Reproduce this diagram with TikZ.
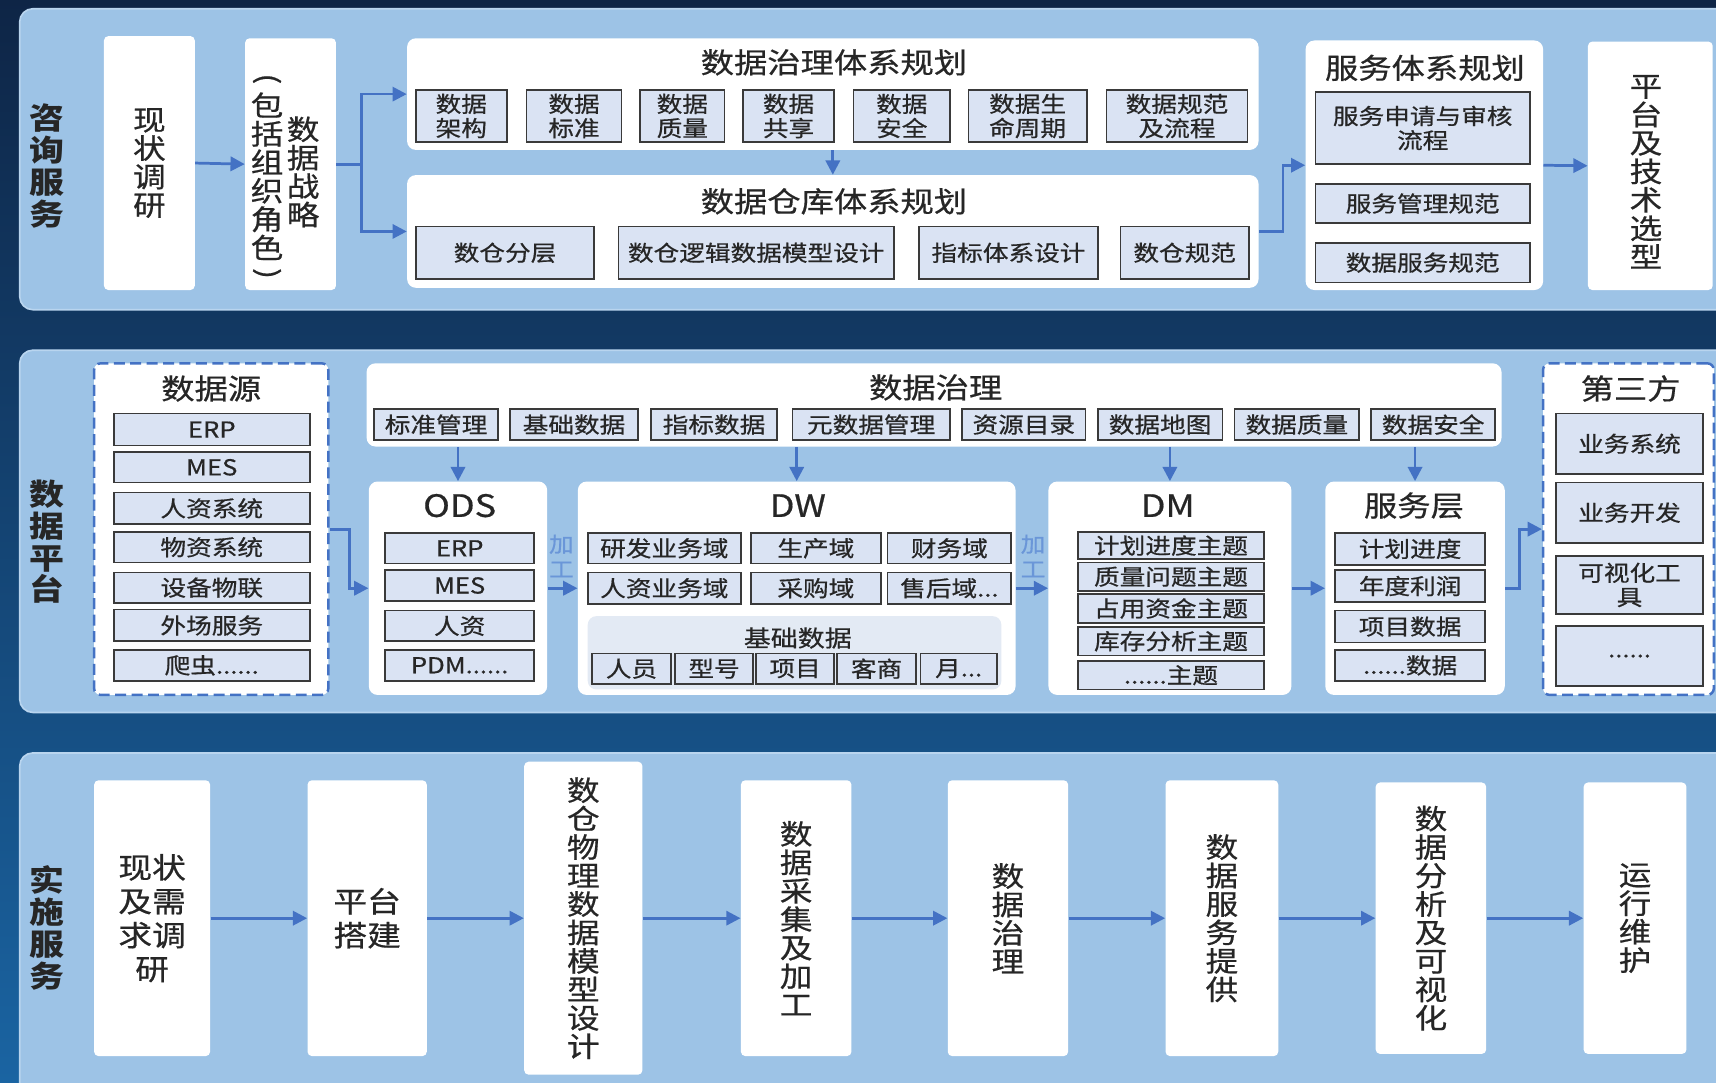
\documentclass[tikz,border=0pt]{standalone}
\usepackage{fontspec}
\setmainfont{Noto Sans CJK SC}[FakeStretch=1.17,UprightFeatures={FakeBold=0.6}]
\usepackage{tikz}
\usetikzlibrary{arrows.meta,calc,positioning}

\definecolor{bgnavy}{HTML}{0E2546}
\definecolor{bgblue}{HTML}{1A64A2}
\definecolor{panelblue}{HTML}{9DC3E6}
\definecolor{panelline}{HTML}{B9D5EF}
\definecolor{cellfill}{HTML}{DAE3F3}
\definecolor{cellline}{HTML}{3A3A3A}
\definecolor{basefill}{HTML}{E3EAF4}
\definecolor{arrowblue}{HTML}{4472C4}
\definecolor{jgblue}{HTML}{6A96D8}

\newcommand\lblfont{\fontsize{15.5pt}{16.6pt}\selectfont\bfseries}
\newcommand\titlefont{\fontsize{14.8pt}{17pt}\selectfont}
\newcommand\itemfont{\fontsize{11.4pt}{12.6pt}\selectfont}
\newcommand\vertfont{\fontsize{14.5pt}{14.8pt}\selectfont}
\newcommand\stepfont{\fontsize{15pt}{17.6pt}\selectfont}
\newcommand\engfont{\fontsize{16pt}{18pt}\selectfont}
\newcommand\jcfont{\fontsize{12pt}{14pt}\selectfont}
\newcommand\jgfont{\fontsize{11pt}{13pt}\selectfont}

% box from corner (x1,y1) to corner (x2,y2), pixel units
\newcommand\mkbox[7][]{\node[#1,minimum width={(#5-#3)*0.2mm},minimum height={(#6-#4)*0.2mm}] (#2) at ({(#3+#5)/2},{(#4+#6)/2}) {#7};}

\begin{document}
\begin{tikzpicture}[x=0.2mm,y=-0.2mm,
  every node/.append style={text=black!85},
  panel/.style={fill=panelblue,draw=panelline,line width=0.3mm,rounded corners=2.4mm},
  wbox/.style={fill=white,rounded corners=0.8mm,inner sep=0pt},
  card/.style={fill=white,rounded corners=1.6mm,inner sep=0pt},
  dbox/.style={fill=white,draw=arrowblue,line width=0.45mm,dash pattern=on 2mm off 1mm,rounded corners=1.2mm,inner sep=0pt},
  cell/.style={fill=cellfill,draw=cellline,line width=0.3mm,inner sep=0pt,font=\itemfont,align=center},
  ttl/.style={font=\titlefont,inner sep=0pt},
  vtxt/.style={font=\vertfont,align=center},
  lbl/.style={font=\lblfont,align=center,inner sep=0pt},
  jg/.style={font=\jgfont,align=center,text=jgblue,inner sep=0pt},
  ln/.style={draw=arrowblue,line width=0.5mm},
  arr/.style={draw=arrowblue,line width=0.5mm,-{Triangle[length=2.6mm,width=2.6mm]}}]
\useasboundingbox (0,0) rectangle (1568,989);
\clip (0,0) rectangle (1568,989);
\shade[top color=bgnavy,bottom color=bgblue] (0,0) rectangle (1568,989);

\draw[panel] (18,8) rectangle (1600,283);
\draw[panel] (18,320) rectangle (1600,651);
\draw[panel] (18,688) rectangle (1600,1020);
\node[lbl] (zxfw) at (43,152) {咨\\询\\服\\务};
\node[lbl] (sjpt) at (43,495) {数\\据\\平\\台};
\node[lbl] (ssfw) at (43,848) {实\\施\\服\\务};

% 咨询服务
\mkbox[wbox,vtxt]{xzdy}{95}{33}{178}{265}{现\\状\\调\\研}
\mkbox[wbox]{sjzl}{224}{35}{307}{265}{}
\node[vtxt,inner sep=0pt] (sjzla) at (277,157) {数\\据\\战\\略};
\node[vtxt,inner sep=0pt] (sjzlb) at (244,161) {包\\括\\组\\织\\角\\色};
\node[font=\vertfont,inner sep=0pt,rotate=-90] (kl) at (244,72) {(};
\node[font=\vertfont,inner sep=0pt,rotate=-90] (kr) at (244,250) {)};

\mkbox[card]{zltx}{372}{35}{1150}{137}{}
\node[ttl] (zltxt) at (762,57) {数据治理体系规划};
\mkbox[cell]{zl1}{380}{82}{463}{130}{数据\\架构}
\mkbox[cell]{zl2}{481}{82}{568}{130}{数据\\标准}
\mkbox[cell]{zl3}{585}{82}{662}{130}{数据\\质量}
\mkbox[cell]{zl4}{679}{82}{762}{130}{数据\\共享}
\mkbox[cell]{zl5}{780}{82}{868}{130}{数据\\安全}
\mkbox[cell]{zl6}{885}{82}{993}{130}{数据生\\命周期}
\mkbox[cell]{zl7}{1011}{82}{1140}{130}{数据规范\\及流程}

\mkbox[card]{cktx}{372}{160}{1150}{263}{}
\node[ttl] (cktxt) at (762,184) {数据仓库体系规划};
\mkbox[cell]{ck1}{380}{207}{543}{255}{数仓分层}
\mkbox[cell]{ck2}{565}{207}{817}{255}{数仓逻辑数据模型设计}
\mkbox[cell]{ck3}{840}{207}{1003}{255}{指标体系设计}
\mkbox[cell]{ck4}{1024}{207}{1141}{255}{数仓规范}

\mkbox[card]{fwtx}{1193}{37}{1410}{265}{}
\node[ttl] (fwtxt) at (1302,62) {服务体系规划};
\mkbox[cell]{fw1}{1202}{84}{1398}{150}{服务申请与审核\\流程}
\mkbox[cell]{fw2}{1202}{168}{1398}{204}{服务管理规范}
\mkbox[cell]{fw3}{1202}{222}{1398}{258}{数据服务规范}
\mkbox[wbox]{ptxx}{1451}{38}{1565}{265}{}
\node[vtxt,inner sep=0pt] (ptxxt) at (1504,157) {平\\台\\及\\技\\术\\选\\型};

\draw[arr] (xzdy.east) -- (sjzl.west);
\draw[ln] (sjzl.east) -- ++(23,0) coordinate (fc);
\draw[arr] (fc) |- (zltx.west);
\draw[arr] (fc) |- (cktx.west);
\draw[arr] (zltx.south) -- (cktx.north);
\draw[arr] (cktx.east) -- ++(22,0) |- (fwtx.west);
\draw[arr] (fwtx.east) -- (ptxx.west);

% 数据平台
\mkbox[dbox]{sjy}{86}{332}{300}{635}{}
\node[ttl] (sjyt) at (193,355) {数据源};
\mkbox[cell]{sy1}{104}{378}{283}{407}{ERP}
\mkbox[cell]{sy2}{104}{413}{283}{441}{MES}
\mkbox[cell]{sy3}{104}{450}{283}{479}{人资系统}
\mkbox[cell]{sy4}{104}{486}{283}{514}{物资系统}
\mkbox[cell]{sy5}{104}{523}{283}{551}{设备物联}
\mkbox[cell]{sy6}{104}{557}{283}{586}{外场服务}
\mkbox[cell]{sy7}{104}{594}{283}{622}{爬虫......}

\mkbox[card]{sjzlp}{335}{332}{1372}{408}{}
\node[ttl] (sjzlt) at (855,354) {数据治理};
\mkbox[cell]{gl1}{342}{374}{455}{402}{标准管理}
\mkbox[cell]{gl2}{466}{374}{583}{402}{基础数据}
\mkbox[cell]{gl3}{595}{374}{710}{402}{指标数据}
\mkbox[cell]{gl4}{724}{374}{868}{402}{元数据管理}
\mkbox[cell]{gl5}{879}{374}{992}{402}{资源目录}
\mkbox[cell]{gl6}{1003}{374}{1117}{402}{数据地图}
\mkbox[cell]{gl7}{1128}{374}{1242}{402}{数据质量}
\mkbox[cell]{gl8}{1253}{374}{1366}{402}{数据安全}

\mkbox[card]{ods}{337}{440}{500}{635}{}
\node[font=\engfont,inner sep=0pt] (odst) at (420,462) {ODS};
\mkbox[cell]{od1}{352}{487}{488}{515}{ERP}
\mkbox[cell]{od2}{352}{521}{488}{549}{MES}
\mkbox[cell]{od3}{352}{558}{488}{586}{人资}
\mkbox[cell]{od4}{352}{594}{488}{622}{PDM......}

\mkbox[card]{dw}{528}{440}{928}{635}{}
\node[font=\engfont,inner sep=0pt] (dwt) at (729,462) {DW};
\mkbox[cell]{dw1}{537}{487}{677}{515}{研发业务域}
\mkbox[cell]{dw2}{686}{487}{805}{515}{生产域}
\mkbox[cell]{dw3}{811}{487}{924}{515}{财务域}
\mkbox[cell]{dw4}{537}{523}{677}{552}{人资业务域}
\mkbox[cell]{dw5}{686}{523}{805}{552}{采购域}
\mkbox[cell]{dw6}{811}{523}{924}{552}{售后域...}
\mkbox[card,fill=basefill]{jcsj}{537}{563}{915}{630}{}
\node[font=\jcfont,inner sep=0pt] (jcsjt) at (729,583) {基础数据};
\mkbox[cell]{jc1}{541}{597}{613}{625}{人员}
\mkbox[cell]{jc2}{617}{597}{688}{625}{型号}
\mkbox[cell]{jc3}{691}{597}{762}{625}{项目}
\mkbox[cell]{jc4}{765}{597}{837}{625}{客商}
\mkbox[cell]{jc5}{841}{597}{911}{625}{月...}

\mkbox[card]{dm}{958}{440}{1180}{635}{}
\node[font=\engfont,inner sep=0pt] (dmt) at (1067,462) {DM};
\mkbox[cell]{dm1}{985}{486}{1155}{511}{计划进度主题}
\mkbox[cell]{dm2}{985}{514}{1155}{540}{质量问题主题}
\mkbox[cell]{dm3}{985}{543}{1155}{569}{占用资金主题}
\mkbox[cell]{dm4}{985}{573}{1155}{599}{库存分析主题}
\mkbox[cell]{dm5}{985}{604}{1155}{630}{......主题}

\mkbox[card]{fwc}{1211}{440}{1375}{635}{}
\node[ttl] (fwct) at (1292,462) {服务层};
\mkbox[cell]{fc1}{1220}{487}{1357}{516}{计划进度}
\mkbox[cell]{fc2}{1220}{521}{1357}{550}{年度利润}
\mkbox[cell]{fc3}{1220}{558}{1357}{587}{项目数据}
\mkbox[cell]{fc4}{1220}{594}{1357}{622}{......数据}

\mkbox[dbox]{dsf}{1410}{332}{1566}{635}{}
\node[ttl] (dsft) at (1490,355) {第三方};
\mkbox[cell]{sf1}{1422}{378}{1556}{433}{业务系统}
\mkbox[cell]{sf2}{1422}{441}{1556}{496}{业务开发}
\mkbox[cell]{sf3}{1422}{508}{1556}{561}{可视化工\\具}
\mkbox[cell]{sf4}{1422}{572}{1556}{627}{......}

\draw[arr] (sjy.east) -- ++(18,0) |- (ods.west);
\draw[arr] (sjzlp.south -| ods.north) -- (ods.north);
\draw[arr] (sjzlp.south -| dw.north) -- (dw.north);
\draw[arr] (sjzlp.south -| dm.north) -- (dm.north);
\draw[arr] (sjzlp.south -| fwc.north) -- (fwc.north);
\draw[arr] (ods.east) -- (dw.west);
\draw[arr] (dw.east) -- (dm.west);
\draw[arr] (dm.east) -- (fwc.west);
\draw[arr] (fwc.east) -- ++(13,0) |- (dsf.west);
\node[jg] (jg1) at (513,508) {加\\工};
\node[jg] (jg2) at (944,508) {加\\工};

% 实施服务
\mkbox[wbox,font=\stepfont,align=center]{ss1}{86}{713}{192}{965}{现状\\及需\\求调\\研}
\mkbox[wbox,font=\stepfont,align=center]{ss2}{281}{713}{390}{965}{平台\\搭建}
\mkbox[wbox,vtxt]{ss3}{479}{696}{587}{982}{数\\仓\\物\\理\\数\\据\\模\\型\\设\\计}
\mkbox[wbox,vtxt]{ss4}{677}{713}{778}{965}{数\\据\\采\\集\\及\\加\\工}
\mkbox[wbox,vtxt]{ss5}{866}{713}{976}{965}{数\\据\\治\\理}
\mkbox[wbox,vtxt]{ss6}{1065}{713}{1168}{965}{数\\据\\服\\务\\提\\供}
\mkbox[wbox,vtxt]{ss7}{1257}{715}{1358}{963}{数\\据\\分\\析\\及\\可\\视\\化}
\mkbox[wbox,vtxt]{ss8}{1447}{715}{1541}{963}{运\\行\\维\\护}
\draw[arr] (ss1.east) -- (ss2.west);
\draw[arr] (ss2.east) -- (ss3.west);
\draw[arr] (ss3.east) -- (ss4.west);
\draw[arr] (ss4.east) -- (ss5.west);
\draw[arr] (ss5.east) -- (ss6.west);
\draw[arr] (ss6.east) -- (ss7.west);
\draw[arr] (ss7.east) -- (ss8.west);
\end{tikzpicture}
\end{document}
